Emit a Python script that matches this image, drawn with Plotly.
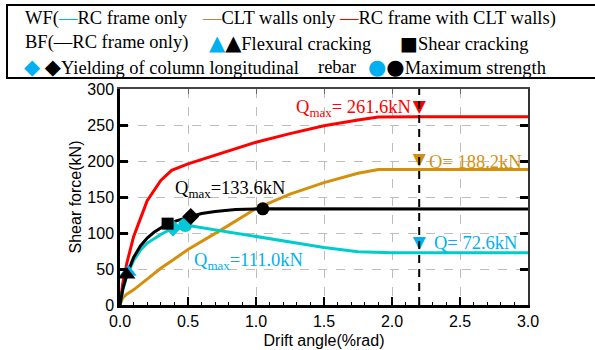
import plotly.graph_objects as go

# ---------------- data ----------------
red_x = [0, 0.02, 0.05, 0.1, 0.15, 0.2, 0.3, 0.38, 0.5, 0.75, 1.0, 1.25, 1.5, 1.75, 1.9, 2.2, 3.0]
red_y = [0, 30, 58, 95, 120, 145, 173, 187, 196, 211, 226, 238, 249, 257, 261, 261.6, 261.6]

gold_x = [0, 0.02, 0.05, 0.1, 0.2, 0.3, 0.4, 0.5, 0.75, 1.0, 1.25, 1.5, 1.75, 1.9, 3.0]
gold_y = [0, 10, 15, 21, 36, 51, 64, 77, 105, 134, 154, 170, 183, 188.2, 188.2]

bf_x = [0, 0.02, 0.05, 0.1, 0.15, 0.2, 0.25, 0.35, 0.45, 0.52, 0.6, 0.7, 0.85, 1.05, 3.0]
bf_y = [0, 22, 42, 66, 82, 93, 101, 113, 119, 123, 127, 130, 132.5, 133.6, 133.2]

wf_x = [0, 0.02, 0.05, 0.1, 0.15, 0.2, 0.3, 0.39, 0.48, 0.75, 0.88, 1.0, 1.25, 1.5, 1.75, 2.0, 3.0]
wf_y = [0, 20, 40, 62, 76, 86, 98, 107, 111, 103, 98.6, 95, 88, 80, 74, 72.6, 72.6]

# event points
bf_tri = (0.05, 42)
bf_sq = (0.35, 113)
bf_dia = (0.52, 123)
bf_circ = (1.05, 133.6)
wf_tri = (0.06, 46)
wf_dia = (0.39, 107)
wf_circ = (0.48, 111)

drift_ref = 2.2
q_red_max = 261.6
q_gold = 188.2
q_cyan = 72.6
q_bf_max = 133.6
q_wf_max = 111.0

x_ticks = [0.0, 0.5, 1.0, 1.5, 2.0, 2.5, 3.0]
y_ticks = [0, 50, 100, 150, 200, 250, 300]

# ---------------- styles ----------------
RED = '#FF0000'
GOLD = '#D4900C'
CYAN_L = '#00CCCC'
CYAN_M = '#00B0F0'
TAN = '#B8864B'
SERIF = 'Liberation Serif, Times New Roman, serif'
SANS = 'Liberation Sans, Arial, sans-serif'

W, H = 595, 350
L, R, T, B = 120, 67, 89, 45
PW, PH = W - L - R, H - T - B


def px(x):
    return (x - L) / PW


def py(y):
    return (H - B - y) / PH


def sym(ch, size, color=None):
    c = f'color:{color};' if color else ''
    return f"<span style='font-family:DejaVu Sans;font-size:{size}px;{c}'>{ch}</span>"


fig = go.Figure()

fig.add_trace(go.Scatter(x=gold_x, y=gold_y, mode='lines', line=dict(color=GOLD, width=3), hoverinfo='skip'))
fig.add_trace(go.Scatter(x=red_x, y=red_y, mode='lines', line=dict(color=RED, width=3), hoverinfo='skip'))
fig.add_trace(go.Scatter(x=wf_x, y=wf_y, mode='lines', line=dict(color=CYAN_L, width=3), hoverinfo='skip'))
fig.add_trace(go.Scatter(x=bf_x, y=bf_y, mode='lines', line=dict(color='black', width=3), hoverinfo='skip'))

# WF markers
fig.add_trace(go.Scatter(x=[wf_tri[0]], y=[wf_tri[1]], mode='markers',
                         marker=dict(symbol='triangle-up', size=15, color=CYAN_M)))
fig.add_trace(go.Scatter(x=[wf_dia[0]], y=[wf_dia[1]], mode='markers',
                         marker=dict(symbol='diamond', size=13, color='#00C8D8')))
fig.add_trace(go.Scatter(x=[wf_circ[0]], y=[wf_circ[1]], mode='markers',
                         marker=dict(symbol='circle', size=14, color='#00C8D8')))
# BF markers
fig.add_trace(go.Scatter(x=[bf_tri[0]], y=[bf_tri[1]], mode='markers',
                         marker=dict(symbol='triangle-up', size=15, color='black')))
fig.add_trace(go.Scatter(x=[bf_sq[0]], y=[bf_sq[1]], mode='markers',
                         marker=dict(symbol='square', size=12, color='black')))
fig.add_trace(go.Scatter(x=[bf_dia[0]], y=[bf_dia[1]], mode='markers',
                         marker=dict(symbol='diamond', size=13, color='black')))
fig.add_trace(go.Scatter(x=[bf_circ[0]], y=[bf_circ[1]], mode='markers',
                         marker=dict(symbol='circle', size=13, color='black')))

# down triangles at reference drift
fig.add_trace(go.Scatter(x=[drift_ref] * 3, y=[q_red_max, q_gold, q_cyan], mode='text',
                         text=['▼', '▼', '▼'], textposition='top center',
                         textfont=dict(family='DejaVu Sans', size=17, color=[RED, GOLD, CYAN_M]),
                         hoverinfo='skip'))

# dummy trace for top/right mirror axes
fig.add_trace(go.Scatter(x=[0], y=[0], xaxis='x2', yaxis='y2', mode='markers',
                         marker=dict(opacity=0), hoverinfo='skip'))

# vertical dashed line
fig.add_shape(type='line', xref='x', yref='paper', x0=drift_ref, x1=drift_ref, y0=0, y1=1,
              line=dict(color='black', width=2, dash='8px,6px'))

# value labels
fig.add_annotation(x=drift_ref, y=q_red_max, xref='x', yref='y', text=f'Q<sub>max</sub>= {q_red_max}kN',
                   showarrow=False, xanchor='right', yanchor='middle', xshift=-6, yshift=8,
                   font=dict(family=SERIF, size=18.5, color=RED))
fig.add_annotation(x=drift_ref, y=q_gold, xref='x', yref='y', text=f'Q= {q_gold}kN',
                   showarrow=False, xanchor='left', yanchor='middle', xshift=8, yshift=8,
                   font=dict(family=SERIF, size=18.5, color=GOLD))
fig.add_annotation(x=drift_ref, y=q_cyan, xref='x', yref='y', text=f'Q= {q_cyan}kN',
                   showarrow=False, xanchor='left', yanchor='middle', xshift=13, yshift=10,
                   font=dict(family=SERIF, size=18.5, color=CYAN_M))
fig.add_annotation(x=px(173), y=py(189), xref='paper', yref='paper', text=f'Q<sub>max</sub>={q_bf_max}kN',
                   showarrow=False, xanchor='left', yanchor='middle',
                   font=dict(family=SERIF, size=18.5, color='black'))
fig.add_annotation(x=px(192), y=py(261), xref='paper', yref='paper', text=f'Q<sub>max</sub>={q_wf_max:.1f}kN',
                   showarrow=False, xanchor='left', yanchor='middle',
                   font=dict(family=SERIF, size=18.5, color=CYAN_M))

# legend box
fig.add_shape(type='rect', xref='paper', yref='paper', x0=px(7), x1=px(605), y0=py(78), y1=py(5),
              line=dict(color='black', width=2), fillcolor='rgba(0,0,0,0)')

leg = [
    (23, 18, f"WF(<span style='color:{CYAN_M}'>—</span>RC frame only"),
    (200, 18, f"<span style='color:{TAN}'>—</span>CLT walls only"),
    (337, 18, f"<span style='color:{RED}'>—</span>RC frame with CLT walls)"),
    (23, 43, "BF(—RC frame only)"),
    (207, 43, sym('▲', 21, CYAN_M) + sym('▲', 21) + "Flexural cracking"),
    (398, 43, sym('■', 19) + "Shear cracking"),
    (22, 67, sym('◆', 21, CYAN_M) + ' ' + sym('◆', 21) + "Yielding of column longitudinal"),
    (316, 67, "rebar"),
    (366, 67, sym('●', 21, CYAN_M) + sym('●', 21) + "Maximum strength"),
]
for lx, ly, txt in leg:
    fig.add_annotation(x=px(lx), y=py(ly), xref='paper', yref='paper', text=txt, showarrow=False,
                       xanchor='left', yanchor='middle', font=dict(family=SERIF, size=18.5, color='black'))

fig.update_layout(
    width=W, height=H,
    margin=dict(l=L, r=R, t=T, b=B, pad=0, autoexpand=False),
    paper_bgcolor='white', plot_bgcolor='white',
    showlegend=False,
    xaxis=dict(range=[0, 3], tickvals=x_ticks, ticktext=[f'{v:.1f}' for v in x_ticks],
               automargin=False,
               showline=True, linecolor='black', linewidth=2.5,
               ticks='inside', ticklen=8, tickwidth=2, tickcolor='black',
               minor=dict(ticks='inside', ticklen=3, tickwidth=1, dtick=0.1, tickcolor='black', showgrid=False),
               showgrid=True, gridcolor='#BDBDBD', griddash='dash', gridwidth=1, zeroline=False,
               tickfont=dict(family=SANS, size=16, color='black'),
               title=dict(text='Drift angle(%rad)', font=dict(family=SANS, size=16, color='black'), standoff=6)),
    yaxis=dict(range=[0, 300], tickvals=y_ticks, automargin=False,
               showline=True, linecolor='black', linewidth=2.5,
               ticks='inside', ticklen=8, tickwidth=2.5, tickcolor='black',
               showgrid=True, gridcolor='#BDBDBD', griddash='dash', gridwidth=1, zeroline=False,
               tickfont=dict(family=SANS, size=16, color='black'),
               title=dict(text='Shear force(kN)', font=dict(family=SANS, size=16, color='black'), standoff=2)),
    xaxis2=dict(range=[0, 3], overlaying='x', side='top', tickvals=x_ticks, showticklabels=False,
                automargin=False,
                showline=True, linecolor='#444444', linewidth=1.5, ticks='inside', ticklen=5,
                tickwidth=1, tickcolor='#666666', showgrid=False, zeroline=False),
    yaxis2=dict(range=[0, 300], overlaying='y', side='right', tickvals=y_ticks, showticklabels=False,
                automargin=False,
                showline=True, linecolor='#333333', linewidth=1.5, ticks='inside', ticklen=8,
                tickwidth=2.5, tickcolor='black', showgrid=False, zeroline=False),
)

fig.write_html('out.html', config={'displayModeBar': False},
               post_script="document.body.style.margin='0';document.body.style.padding='0';")
